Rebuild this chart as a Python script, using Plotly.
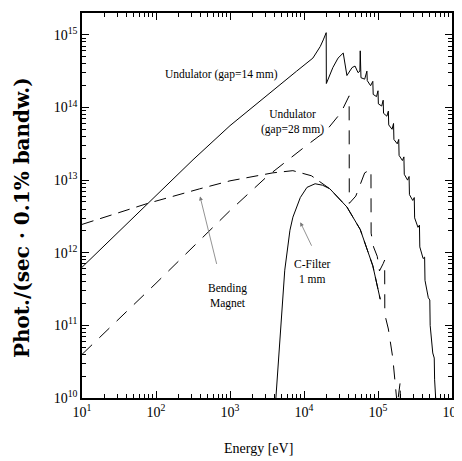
import numpy as np
import plotly.graph_objects as go

# values, as log10(energy / eV) and log10(flux)
und14_loge = [1.0, 1.89, 2.5, 3.0, 3.45, 3.9, 4.12, 4.22, 4.26, 4.30, 4.302, 4.39, 4.46, 4.53,
              4.58, 4.65, 4.69, 4.73, 4.755, 4.76, 4.77, 4.82, 4.85, 4.855, 4.90, 4.93, 4.935,
              4.98, 5.00, 5.005, 5.05, 5.07, 5.075, 5.12, 5.14, 5.145, 5.19, 5.21, 5.215,
              5.26, 5.28, 5.285, 5.33, 5.35, 5.355, 5.40, 5.42, 5.425, 5.47, 5.49, 5.495,
              5.54, 5.56, 5.565, 5.61, 5.63, 5.635, 5.68, 5.70, 5.705, 5.74, 5.76, 5.765, 5.785]
und14_logf = [11.80, 12.68, 13.28, 13.75, 14.13, 14.50, 14.68, 14.84, 14.93, 15.03, 14.33, 14.55, 14.68, 14.75,
              14.44, 14.55, 14.57, 14.48, 14.50, 14.78, 14.41, 14.39, 14.50, 14.37, 14.30, 14.36, 14.18,
              14.15, 14.23, 14.05, 14.02, 14.10, 13.92, 13.88, 13.95, 13.76, 13.70, 13.78, 13.56,
              13.50, 13.56, 13.34, 13.27, 13.32, 13.08, 13.00, 13.05, 12.80, 12.72, 12.76, 12.48,
              12.35, 12.38, 12.08, 11.92, 11.94, 11.62, 11.38, 11.35, 11.00, 10.62, 10.55, 10.25, 9.90]

und28_loge = [1.0, 2.0, 3.0, 3.5, 4.0, 4.3, 4.5, 4.61, 4.612, 4.70, 4.82, 4.905, 4.907,
              4.94, 4.99, 5.02, 5.07, 5.09, 5.092, 5.14, 5.20, 5.24, 5.26, 5.30, 5.302]
und28_logf = [10.60, 11.58, 12.58, 13.05, 13.45, 13.68, 13.93, 14.16, 12.68, 12.78, 13.10, 13.15, 12.27,
              12.08, 11.95, 11.75, 11.85, 11.90, 11.15, 10.95, 10.55, 10.15, 9.90, 10.22, 9.80]

bend_loge = [1.0, 1.89, 2.59, 3.0, 3.58, 3.85, 4.1, 4.22, 4.35, 4.58, 4.76, 4.93, 5.03]
bend_logf = [12.39, 12.68, 12.88, 12.99, 13.10, 13.13, 13.06, 12.97, 12.88, 12.63, 12.32, 11.82, 11.36]

cfilt_loge = [3.62, 3.68, 3.74, 3.81, 3.85, 3.95, 4.04, 4.15, 4.25, 4.35, 4.58, 4.76, 4.93, 5.03]
cfilt_logf = [10.0, 10.93, 11.76, 12.31, 12.49, 12.76, 12.90, 12.95, 12.93, 12.88, 12.63, 12.32, 11.82, 11.36]

x_tickvals = [1e1, 1e2, 1e3, 1e4, 1e5, 1e6]
x_ticktext = ["10<sup>1</sup>", "10<sup>2</sup>", "10<sup>3</sup>", "10<sup>4</sup>", "10<sup>5</sup>", "10<sup>6</sup>"]
y_tickvals = [1e10, 1e11, 1e12, 1e13, 1e14, 1e15]
y_ticktext = ["10<sup>10</sup>", "10<sup>11</sup>", "10<sup>12</sup>", "10<sup>13</sup>", "10<sup>14</sup>", "10<sup>15</sup>"]

serif = "Liberation Serif"

fig = go.Figure()


def add_curve(loge, logf, width, dash):
    fig.add_trace(go.Scatter(
        x=np.power(10.0, loge),
        y=np.power(10.0, logf),
        mode="lines",
        line=dict(color="black", width=width, dash=dash),
        hoverinfo="skip"
    ))


add_curve(und14_loge, und14_logf, 1.0, "solid")
add_curve(und28_loge, und28_logf, 1.0, "14px,10px")
add_curve(bend_loge, bend_logf, 1.0, "12px,7px")
add_curve(cfilt_loge, cfilt_logf, 1.0, "solid")

axis_common = dict(
    type="log",
    automargin=False,
    showgrid=False,
    zeroline=False,
    showline=True,
    linecolor="black",
    linewidth=1.5,
    mirror="allticks",
    ticks="inside",
    ticklen=7,
    tickwidth=1,
    tickcolor="black",
    tickfont=dict(family=serif, size=14, color="black"),
    minor=dict(ticks="inside", ticklen=4, tickwidth=1, tickcolor="black", dtick="D1", showgrid=False),
)

# the page body adds an 8px offset, so the figure is a bit smaller than the window
fig.update_layout(
    width=454,
    height=453,
    margin=dict(l=74, r=10, t=5, b=63),
    paper_bgcolor="white",
    plot_bgcolor="white",
    showlegend=False,
    xaxis=dict(axis_common, range=[1, 6], tickvals=x_tickvals, ticktext=x_ticktext),
    yaxis=dict(axis_common, range=[10, 15.301], tickvals=y_tickvals, ticktext=y_ticktext),
)

labels = [
    ("Undulator (gap=14 mm)", 2.88, 14.46),
    ("Undulator<br>(gap=28 mm)", 3.84, 13.80),
    ("Bending<br>Magnet", 2.97, 11.40),
    ("C-Filter<br>1 mm", 4.12, 11.74),
]
for text, lx, ly in labels:
    fig.add_annotation(x=lx, y=ly, text=text, showarrow=False,
                       font=dict(family=serif, size=11.5, color="black"))

# pointer arrows (head on the curve, tail near the label)
fig.add_annotation(x=2.595, y=12.775, text="", showarrow=True, arrowhead=2, arrowsize=1,
                   arrowwidth=0.8, arrowcolor="#777777", ax=17, ay=69)
fig.add_annotation(x=3.95, y=12.42, text="", showarrow=True, arrowhead=2, arrowsize=1,
                   arrowwidth=0.8, arrowcolor="#777777", ax=12, ay=25)

# axis titles
fig.add_annotation(xref="paper", yref="paper", x=0.476, y=-0.132,
                   xanchor="center", yanchor="middle",
                   text="Energy [eV]", showarrow=False,
                   font=dict(family=serif, size=14, color="black"))
fig.add_annotation(xref="paper", yref="paper", x=-0.162, y=0.4675, textangle=-90,
                   xanchor="center", yanchor="middle",
                   text="<b>Phot./(sec · 0.1% bandw.)</b>", showarrow=False,
                   font=dict(family="DejaVu Serif", size=20, color="black"))

fig.write_html("out.html")
